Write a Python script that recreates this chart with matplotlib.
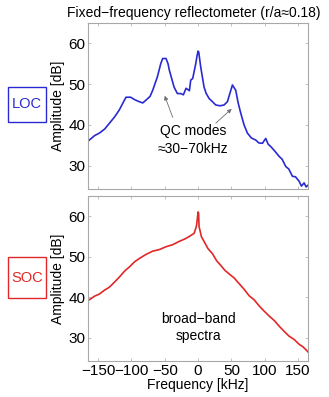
import matplotlib
matplotlib.use("Agg")
import matplotlib.pyplot as plt
from matplotlib.patches import Rectangle

plt.rcParams["font.family"] = ["Liberation Sans", "DejaVu Sans"]

# LOC spectrum (fixed-frequency reflectometer)
loc_freq = [-165, -163, -155, -148, -140, -133, -125, -118, -112, -108, -101, -95, -88,
            -83, -78, -72, -68, -61, -56, -53, -48, -45, -43, -36, -31, -26, -22, -18,
            -13, -11, -8, -3.5, -1.5, 0, 1, 4, 9, 12, 16.5, 21, 26.5, 33, 39, 44, 51.5,
            56.5, 60, 64, 69, 74, 80, 86.5, 91, 96.5, 101.5, 105, 109, 115, 121.5, 126,
            131.5, 136, 141.5, 146, 151.5, 155, 159, 162, 166]
loc_amp = [36.0, 36.3, 37.4, 38.0, 39.0, 40.4, 42.0, 43.7, 45.6, 46.8, 46.8, 46.2, 45.7,
           45.4, 46.1, 47.0, 48.5, 51.8, 55.0, 56.3, 56.3, 55.0, 53.4, 49.3, 47.7, 47.7,
           47.4, 49.0, 48.4, 51.0, 51.4, 55.0, 57.0, 58.1, 57.9, 54.2, 49.3, 47.8, 46.5,
           45.8, 44.9, 44.7, 44.9, 45.7, 49.8, 48.5, 45.5, 42.9, 40.0, 38.0, 36.8, 36.3,
           35.6, 35.5, 36.7, 35.3, 34.7, 33.6, 32.3, 31.6, 29.8, 29.2, 27.4, 27.3, 26.2,
           25.0, 25.8, 24.8, 25.4]

# SOC spectrum
soc_freq = [-165, -163, -155, -148, -140, -133, -125, -118, -110, -103, -95, -88, -78,
            -68, -58, -48, -38, -28.5, -20, -13.5, -6, -2.5, -1, 0, 0.8, 1.5, 5, 9,
            15, 21.5, 28, 34, 40, 46.5, 54, 61.5, 69, 76.5, 84, 91.5, 99, 106.5, 114,
            121.5, 129, 136.5, 144, 151.5, 157, 161.5, 166]
soc_amp = [39.3, 39.4, 40.3, 40.8, 41.8, 42.5, 43.8, 45.0, 46.5, 47.5, 48.8, 49.6, 50.6,
           51.4, 51.8, 52.5, 53.0, 53.8, 54.4, 55.0, 55.8, 57.5, 59.5, 61.1, 60.8, 57.5,
           55.0, 53.8, 52.0, 50.8, 49.0, 47.9, 46.7, 45.8, 44.8, 43.4, 42.0, 40.4, 39.4,
           37.9, 36.6, 35.4, 34.3, 32.9, 31.6, 30.4, 29.6, 28.4, 27.8, 27.1, 26.3]

xticks = [-150, -100, -50, 0, 50, 100, 150]
yticks = [30, 40, 50, 60]

blue = "#2a2ad2"
red = "#e02828"
spine_c = "#a8a8a8"

fig = plt.figure(figsize=(3.29, 3.97), dpi=100)
ax1 = fig.add_axes([0.2675, 0.524, 0.669, 0.418])
ax2 = fig.add_axes([0.2675, 0.091, 0.669, 0.415])

for ax in (ax1, ax2):
    ax.set_xlim(-165, 165)
    ax.set_ylim(24.3, 65)
    ax.set_xticks(xticks)
    ax.set_yticks(yticks)
    ax.tick_params(direction="in", length=2.5, width=0.5, color=spine_c,
                   top=True, right=True, labelsize=11, pad=2)
    for s in ax.spines.values():
        s.set_color(spine_c)
        s.set_linewidth(0.8)
    ax.set_ylabel("Amplitude [dB]", fontsize=10, labelpad=2)

ax1.tick_params(labelbottom=False)
ax1.plot(loc_freq, loc_amp, color=blue, lw=1.2)
ax2.plot(soc_freq, soc_amp, color=red, lw=1.2)

ax1.set_title("Fixed\u2212frequency reflectometer (r/a\u22480.18)", fontsize=10, pad=4, x=0.48)
ax2.set_xlabel("Frequency [kHz]", fontsize=10, labelpad=0)
ax2.set_xticklabels([str(t).replace("-", "\u2212") for t in xticks])

# annotations
ax1.text(-8, 38.5, "QC modes", fontsize=10, ha="center", va="center")
ax1.text(-8, 34.2, "\u224830\u221270kHz", fontsize=10, ha="center", va="center")
arrow = dict(arrowstyle="-|>", color="#707070", lw=0.6, mutation_scale=6)
ax1.annotate("", xy=(-51.5, 47.8), xytext=(-36.5, 41.2), arrowprops=arrow)
ax1.annotate("", xy=(53.5, 44.4), xytext=(23.5, 40.0), arrowprops=arrow)

ax2.text(0, 34.7, "broad\u2212band", fontsize=10, ha="center", va="center")
ax2.text(0, 30.5, "spectra", fontsize=10, ha="center", va="center")

# side boxes (figure pixels -> fraction)
W, H = 329, 397
fig.patches.append(Rectangle((8 / W, 1 - 122 / H), 38 / W, 35 / H, transform=fig.transFigure,
                             fill=False, ec=blue, lw=1.0))
fig.text(27 / W, 1 - 104.5 / H, "LOC", fontsize=10.5, color=blue, ha="center", va="center")
fig.patches.append(Rectangle((8 / W, 1 - 298 / H), 38 / W, 41 / H, transform=fig.transFigure,
                             fill=False, ec=red, lw=1.0))
fig.text(27 / W, 1 - 277.5 / H, "SOC", fontsize=10.5, color=red, ha="center", va="center")

fig.savefig("out.png", dpi=100)
